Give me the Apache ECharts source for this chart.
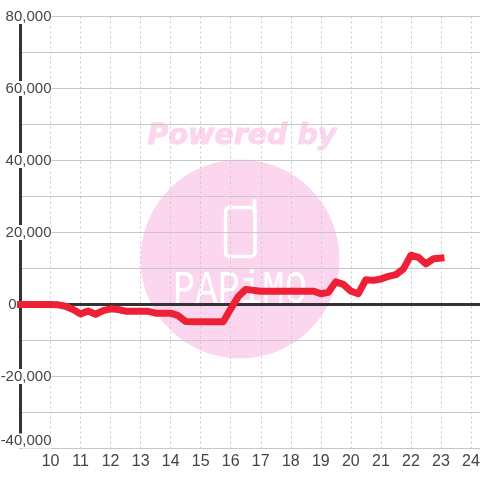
<!DOCTYPE html>
<html>
<head>
<meta charset="utf-8">
<title>chart</title>
<script src="https://cdn.jsdelivr.net/npm/echarts@6/dist/echarts.min.js"></script>
<style>
  html, body { margin: 0; padding: 0; background: #fff; }
  #chart { width: 480px; height: 480px; }
</style>
</head>
<body>
<div id="chart"></div>
<script>
// values
const times = [9, 10, 10.25, 10.5, 10.75, 11, 11.25, 11.5, 11.75, 12, 12.25, 12.5, 13, 13.25, 13.5, 14, 14.25, 14.5,
  15, 15.75, 16, 16.25, 16.5, 17, 18.75, 19, 19.25, 19.5, 19.75, 20, 20.25, 20.5, 20.75, 21, 21.25, 21.5, 21.75, 22, 22.25, 22.5, 22.75, 23]
const values = [0, 0, -100, -500, -1400, -2600, -1800, -2700, -1700, -1200, -1400, -1850, -1850, -1900, -2400, -2400, -3100, -4700,
  -4800, -4800, -1200, 2200, 4200, 3700, 3700, 3000, 3400, 6300, 5600, 3700, 3000, 6900, 6700, 7100, 7800, 8300, 9900, 13700, 13100, 11300, 12700, 12900]
const yTicksLabelled = [80000, 60000, 40000, 20000, 0, -20000, -40000]

const chart = echarts.init(document.getElementById('chart'))
const labelFont = 'Liberation Sans'
const textColor = '#444'
const labelSize = 15

chart.setOption({
  animation: false,
  backgroundColor: '#fff',
  grid: { left: 20.5, right: 0, top: 16.5, bottom: 31.5, outerBoundsMode: 'none' },
  graphic: [
    { type: 'circle', z: -5, shape: { cx: 240, cy: 259, r: 99.5 }, style: { fill: '#fcd5ee' } },
    { type: 'text', z: -5, x: 242, y: 137, style: { text: 'Powered by', fill: '#fcd5ee', stroke: '#fcd5ee', lineWidth: 1, font: 'italic bold 28.5px "DejaVu Sans"', align: 'center', verticalAlign: 'middle' } },
    { type: 'rect', z: -4, shape: { x: 225.5, y: 207.5, width: 29.5, height: 49, r: 4 }, style: { fill: 'none', stroke: '#fff', lineWidth: 3.5 } },
    { type: 'line', z: -4, shape: { x1: 254.5, y1: 201, x2: 254.5, y2: 212 }, style: { stroke: '#fff', lineWidth: 4, lineCap: 'round' } },
    { type: 'text', z: -4, x: 240, y: 291, scaleX: 1.33, scaleY: 1.65, style: { text: 'PAPiMO', fill: '#fff', font: '28px "Liberation Mono"', align: 'center', verticalAlign: 'middle' } }
  ],
  xAxis: [
    {
      type: 'value', position: 'bottom', min: 9, max: 24.3, interval: 1,
      axisLine: { show: false }, axisTick: { show: false },
      axisLabel: { color: textColor, fontFamily: labelFont, fontSize: 16, margin: 5, showMinLabel: false, showMaxLabel: false },
      splitLine: { showMaxLine: false, lineStyle: { color: '#c8c8c8', type: [2, 3], width: 1 } }
    },
    {
      // zero line only
      type: 'value', position: 'bottom', min: 9, max: 24.3, interval: 1, gridIndex: 0,
      axisLine: { show: true, onZero: true, onZeroAxisIndex: 0, lineStyle: { color: '#333', width: 3 } },
      axisTick: { show: false }, axisLabel: { show: false }, splitLine: { show: false }
    }
  ],
  yAxis: {
    type: 'value', min: -40000, max: 80000, interval: 10000,
    axisLine: { show: true, onZero: false, lineStyle: { color: '#333', width: 3, cap: 'butt' } },
    axisTick: { show: false },
    splitLine: { lineStyle: { color: '#c8c8c8', width: 1 } },
    axisLabel: {
      inside: true, margin: 31, align: 'right', color: textColor, fontFamily: labelFont, fontSize: labelSize,
      verticalAlignMinLabel: 'bottom',
      formatter: (v) => {
        if (!yTicksLabelled.includes(v)) return ''
        if (v === 0) return '{zero|0}'
        return '{n|' + v.toLocaleString('en-US') + '}'
      },
      rich: {
        n: { backgroundColor: '#fff', color: textColor, fontFamily: labelFont, fontSize: labelSize, height: 15 },
        zero: { color: textColor, fontFamily: labelFont, fontSize: labelSize, padding: [0, 35, 0, 0] }
      }
    }
  },
  series: [{
    type: 'line', xAxisIndex: 0, symbol: 'none', z: 5,
    data: times.map((t, i) => [t, values[i]]),
    lineStyle: { color: '#ee2036', width: 7, cap: 'square', join: 'round' }
  }]
})
</script>
</body>
</html>
